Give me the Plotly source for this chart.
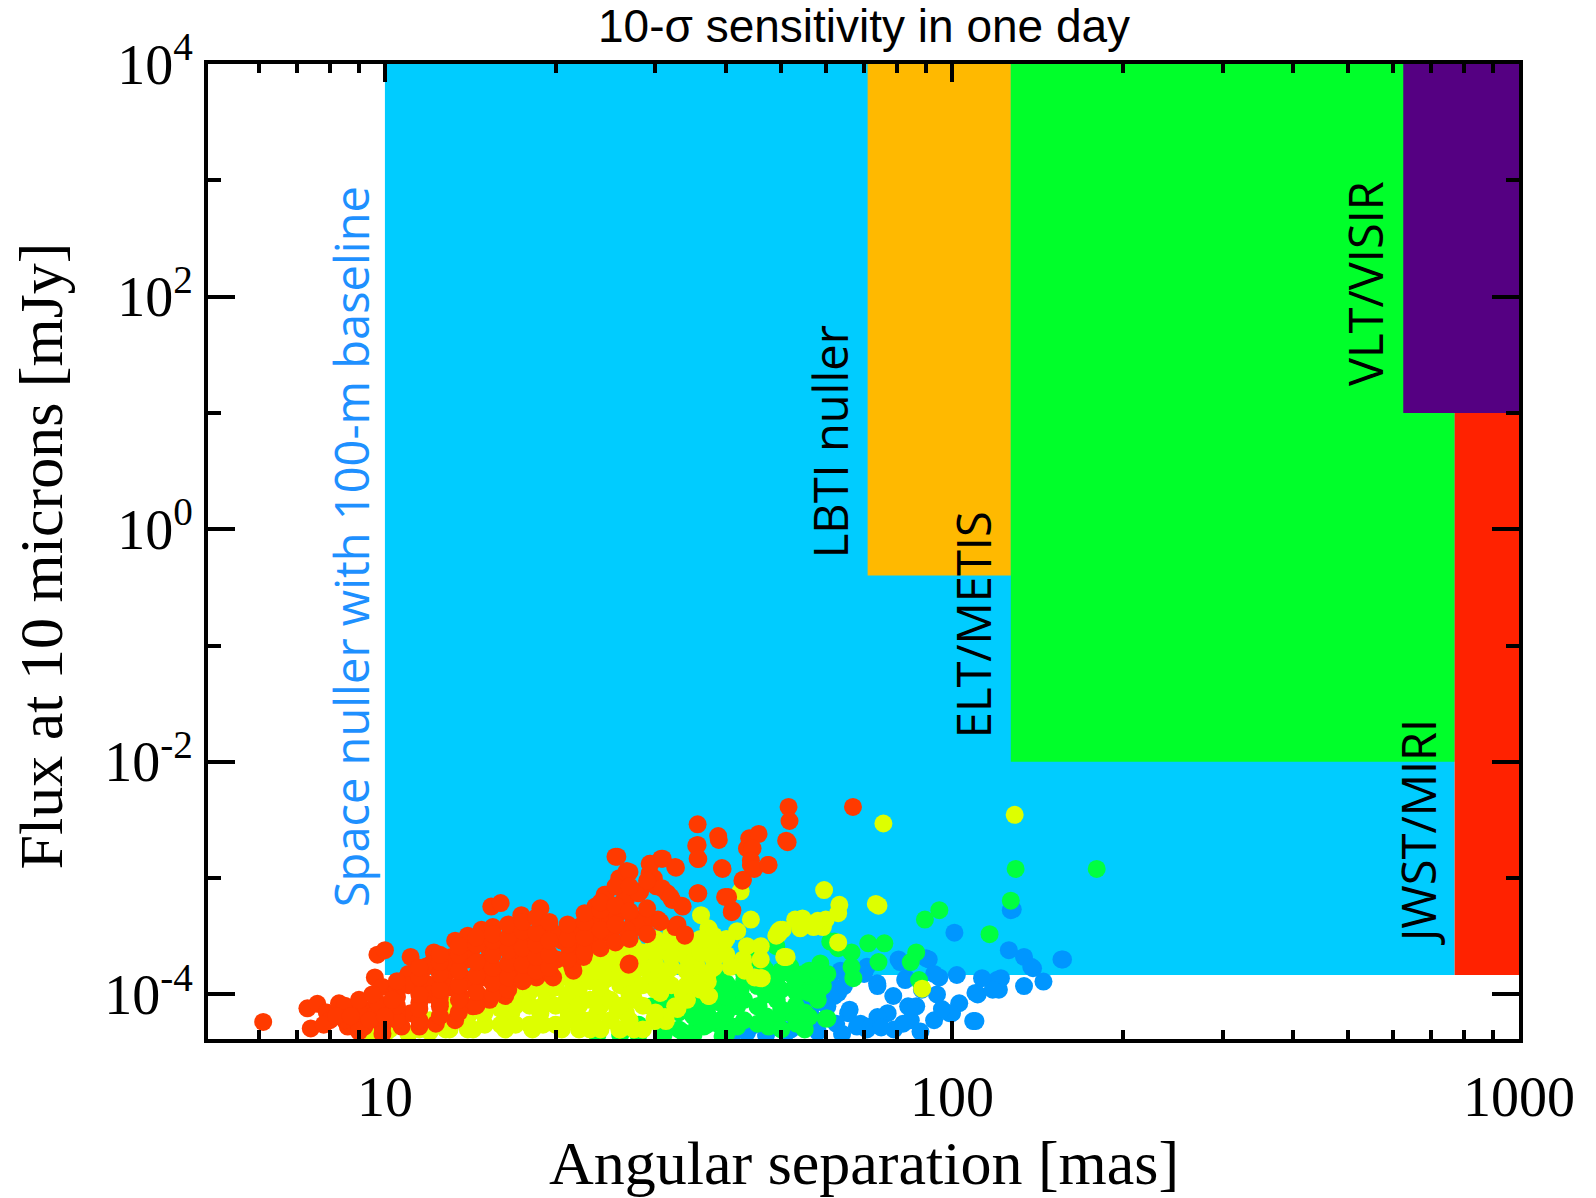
import numpy as np
import plotly.graph_objects as go

# ---------------- sensitivity regions ----------------
region_names = ["Space nuller", "LBTI nuller", "ELT/METIS", "VLT/VISIR", "JWST/MIRI"]
region_x0 = [10, 71, 127, 625, 770]
region_x1 = [770, 127, 770, 1000, 1000]
region_y0 = [1.47e-4, 0.40, 1e-2, 10, 1.47e-4]
region_y1 = [1e4, 1e4, 1e4, 1e4, 10]
region_colors = ["rgb(0,204,255)", "rgb(255,185,0)", "rgb(0,255,42)",
                 "rgb(85,0,130)", "rgb(255,34,0)"]

# ---------------- labels ----------------
label_text = ["Space nuller with 100-m baseline", "LBTI nuller", "ELT/METIS",
              "VLT/VISIR", "JWST/MIRI"]
label_x = [8.7, 60.8, 109, 535, 662]
label_y = [0.71, 5.65, 0.15, 131, 2.5e-3]
label_colors = ["rgb(30,144,255)", "black", "black", "black", "black"]

# ---------------- planets (angular separation [mas], flux [mJy]) ----------------
red_x = [6.1, 7.3, 7.6, 7.4, 7.9, 8.3, 8.8, 9.2, 9.7, 10.0, 9.6, 9.9, 10.5, 10.2,
         11.1, 12.2, 13.1, 11.8, 12.5, 13.7, 14.0, 14.8, 15.5, 15.4, 16.0, 17.4, 18.8, 18.8,
         19.6, 20.5, 21.7, 23.0, 24.0, 24.4, 25.5, 26.0, 26.7, 26.6, 28.2, 29.4, 30.7, 29.3,
         30.1, 31.5, 32.5, 32.1, 33.5, 35.6, 35.6, 38.8, 39.3, 35.6, 39.8, 41.0, 42.8, 43.5,
         44.2, 47.5, 51.0, 32.5, 33.8, 30.3, 28.6, 27.0, 19.3, 21.4, 18.5, 19.6, 17.4, 16.7,
         15.3, 14.2, 13.3, 14.9, 16.0, 15.3, 16.3, 14.3, 13.3, 12.3, 11.5, 10.7, 9.9, 9.2,
         8.6, 11.1, 12.5, 13.6, 11.8, 10.8, 10.4, 11.0,
         51.5, 51.7, 51.3, 66.9, 35.6, 38.7, 35.4, 35.7, 39.4, 43.9, 45.6, 44.5, 44.2, 44.8,
         47.4, 42.7, 35.7, 40.3, 40.9, 25.7, 25.9, 27.0, 29.3, 30.9, 32.6, 29.8, 30.8, 31.9,
         33.4, 32.8, 33.8, 26.9,
         24.5, 26.5, 28.0, 23.5, 22.7, 20.9, 19.8, 24.0, 25.7, 27.4, 28.9, 30.6, 27.8, 26.7,
         25.0, 23.6, 22.4, 21.2, 20.1, 21.5, 19.8, 22.4,
         12.0, 13.0, 14.0, 15.0, 16.0, 17.0, 18.0, 12.0, 11.0, 13.0, 14.0, 15.0, 16.0, 17.0,
         18.0, 19.0, 20.0, 22.0, 9.5, 10.5, 8.0, 11.5, 12.5,
         8.5, 8.5, 9.0, 9.0, 9.0, 10.5, 10.5, 10.5, 10.5, 11.5, 11.5, 11.5, 11.5, 11.5,
         12.5, 12.5, 12.5, 12.5, 12.5, 12.5, 13.5, 13.5, 13.5, 13.5, 13.5, 13.5,
         14.5, 14.5, 14.5, 14.5, 14.5, 14.5, 15.5, 15.5, 15.5, 15.5, 15.5, 15.5,
         16.5, 16.5, 16.5, 16.5, 16.5, 16.5, 17.5, 17.5, 17.5, 17.5, 17.5,
         18.5, 18.5, 18.5, 18.5, 18.5, 19.5, 19.5, 19.5, 19.5, 21.0, 21.0, 21.0, 21.0,
         22.5, 22.5, 22.5, 22.5, 24.0, 24.0, 24.0, 24.0, 25.5, 25.5, 25.5, 25.5,
         27.0, 27.0, 27.0, 29.0, 29.0, 29.0,
         7.8, 8.2, 8.7, 9.0, 9.4, 9.7, 9.5, 10.0, 10.3, 9.9]
red_y = [5.8e-5, 7.6e-5, 8.3e-5, 5.1e-5, 7.0e-5, 8.4e-5, 7.7e-5, 7.4e-5, 2.2e-4, 2.4e-4, 1.4e-4, 1.16e-4, 9.5e-5, 7.8e-5,
         2.1e-4, 2.3e-4, 2.1e-4, 1.73e-4, 1.33e-4, 1.4e-4, 3.2e-4, 3.6e-4, 3.8e-4, 5.7e-4, 6.1e-4, 4.8e-4, 5.5e-4, 4.1e-4,
         3.6e-4, 2.9e-4, 3.4e-4, 3.8e-4, 4.6e-4, 7.2e-4, 1.53e-3, 1.0e-3, 1.15e-3, 6.5e-4, 7.7e-4, 1.33e-3, 1.47e-3, 1.1e-3,
         8.5e-4, 7.4e-4, 1.25e-3, 6.5e-4, 5.7e-4, 1.93e-3, 1.47e-3, 2.13e-3, 1.22e-3, 7.4e-4, 6.9e-4, 5.3e-4, 9.7e-4, 1.8e-3,
         1.3e-3, 1.3e-3, 2.1e-3, 3.8e-4, 3.2e-4, 4.4e-4, 3.8e-4, 1.85e-4, 2.4e-4, 1.73e-4, 1.4e-4, 1.5e-4, 1.6e-4, 2.1e-4,
         2.4e-4, 2.4e-4, 2.9e-4, 1.73e-4, 1.33e-4, 9.0e-5, 9.7e-5, 7.9e-5, 6.0e-5, 5.6e-5, 5.3e-5, 5.3e-5, 5.3e-5, 5.3e-5,
         5.3e-5, 6.9e-5, 7.9e-5, 9.7e-5, 1.25e-4, 1.33e-4, 1.03e-4, 1.5e-4,
         4.1e-3, 3.1e-3, 2.04e-3, 4.1e-3, 2.9e-3, 2.3e-3, 1.9e-3, 1.46e-3, 1.2e-3, 2.2e-3, 2.4e-3, 1.8e-3, 1.42e-3, 1.2e-3,
         1.3e-3, 9.5e-4, 7.4e-4, 6.9e-4, 5.1e-4, 1.53e-3, 1.0e-3, 1.13e-3, 1.33e-3, 1.47e-3, 1.23e-3, 1.0e-3, 8.2e-4, 6.9e-4,
         5.8e-4, 4.0e-4, 3.3e-4, 1.8e-4,
         7.2e-4, 6.9e-4, 7.4e-4, 5.7e-4, 4.6e-4, 3.6e-4, 3.3e-4, 4.6e-4, 4.9e-4, 4.6e-4, 4.4e-4, 4.2e-4, 3.8e-4, 3.6e-4,
         3.3e-4, 2.9e-4, 2.6e-4, 2.3e-4, 2.0e-4, 1.6e-4, 1.4e-4, 2.1e-4,
         1.8e-4, 1.6e-4, 2.0e-4, 1.9e-4, 2.6e-4, 2.9e-4, 3.2e-4, 1.0e-4, 1.2e-4, 1.15e-4, 1.3e-4, 1.4e-4, 1.6e-4, 2.0e-4,
         2.3e-4, 2.8e-4, 3.2e-4, 3.8e-4, 6.5e-5, 7.0e-5, 6.0e-5, 8.5e-5, 9.5e-5,
         6.0e-5, 8.0e-5, 5.5e-5, 7.0e-5, 9.0e-5, 6.0e-5, 8.0e-5, 1.1e-4, 1.3e-4, 6.0e-5, 7.5e-5, 1.0e-4, 1.4e-4, 1.7e-4,
         6.5e-5, 8.5e-5, 1.1e-4, 1.5e-4, 1.9e-4, 2.2e-4, 7.0e-5, 9.0e-5, 1.2e-4, 1.6e-4, 2.2e-4, 2.6e-4,
         8.0e-5, 1.05e-4, 1.45e-4, 1.9e-4, 2.7e-4, 3.1e-4, 1.0e-4, 1.25e-4, 1.7e-4, 2.2e-4, 2.9e-4, 3.3e-4,
         1.1e-4, 1.4e-4, 1.85e-4, 2.4e-4, 3.1e-4, 4.0e-4, 1.3e-4, 1.8e-4, 2.5e-4, 3.5e-4, 4.2e-4,
         1.6e-4, 2.1e-4, 2.7e-4, 3.4e-4, 4.6e-4, 1.7e-4, 2.2e-4, 2.9e-4, 4.2e-4, 2.0e-4, 2.7e-4, 3.0e-4, 4.0e-4,
         2.3e-4, 3.1e-4, 4.2e-4, 5.0e-4, 2.5e-4, 3.6e-4, 5.3e-4, 6.2e-4, 2.8e-4, 4.0e-4, 5.8e-4, 8.5e-4,
         3.0e-4, 5.2e-4, 8.5e-4, 3.3e-4, 5.5e-4, 9.5e-4,
         5.5e-5, 6.5e-5, 6.5e-5, 4.8e-5, 6.0e-5, 8.5e-5, 1.0e-4, 6.5e-5, 9.0e-5, 4.6e-5]

yellow_x = [36.1, 37.2, 42.4, 44.2, 41.8, 39.3, 43.5, 42.8, 44.9, 46.2, 49.0, 50.3, 50.6, 52.9,
            37.2, 33.5, 32.5, 31.2, 29.9, 26.6, 27.8, 30.3, 31.7, 33.5, 35.5, 36.7, 38.3,
            9.1, 10.2, 11.5, 12.8, 14.3, 16.3, 18.2, 20.5, 23.0, 25.9,
            13.3, 14.9, 16.7, 18.8, 21.1, 23.7, 26.6,
            15.3, 17.2, 19.3, 21.7, 24.4, 27.4,
            17.2, 19.3, 21.7, 24.4, 27.4,
            22.4, 25.1, 28.2, 24.4, 27.4, 29.8, 29.9,
            37.3, 39.6, 37.9, 32.8, 30.2, 35.4, 37.1, 42.8, 43.1, 45.9, 37.1, 37.3, 33.6, 32.8,
            31.3, 29.9, 27.5, 34.1, 49.4, 49.8, 51.1, 54.0, 54.5, 59.5, 59.2, 59.9, 63.3, 63.0,
            63.0, 74.2, 75.7, 129, 88.6, 50.7, 22.4, 24.0, 25.7, 27.5, 20.9, 22.4, 29.4, 30.6,
            31.3, 34.6, 40.7, 58.0, 57.0, 49.5, 73.4, 9.5, 11.0,
            10.0, 10.0, 12.0, 12.0, 13.0, 13.0, 13.0, 14.0, 14.0, 14.0, 15.0, 15.0, 15.0,
            16.0, 16.0, 16.0, 16.0, 17.0, 17.0, 17.0, 17.0, 18.0, 18.0, 18.0, 18.0, 18.0,
            19.0, 19.0, 19.0, 19.0, 20.0, 20.0, 20.0, 20.0, 20.0, 21.0, 21.0, 21.0,
            22.0, 22.0, 22.0, 22.0, 22.0, 23.0, 23.0, 23.0, 23.0, 23.0, 24.0, 24.0, 24.0, 24.0, 24.0,
            25.0, 25.0, 25.0, 25.0, 25.0, 26.0, 26.0, 26.0, 26.0, 26.0, 27.0, 27.0, 27.0, 27.0, 27.0,
            28.5, 28.5, 28.5, 28.5, 28.5, 30.0, 30.0, 30.0, 30.0, 30.0, 32.0, 32.0, 32.0, 32.0,
            34.0, 34.0, 34.0, 34.0, 36.0, 36.0, 36.0, 38.0, 38.0, 38.0, 40.0, 40.0, 46.0, 46.0]
yellow_y = [4.8e-4, 3.7e-4, 7.7e-4, 4.4e-4, 3.5e-4, 2.8e-4, 2.6e-4, 2.0e-4, 1.4e-4, 1.38e-4, 3.2e-4, 3.6e-4, 2.1e-4, 4.4e-4,
            9.7e-5, 1.03e-4, 7.9e-5, 6.4e-5, 5.9e-5, 1.73e-4, 1.18e-4, 1.4e-4, 2.6e-4, 2.4e-4, 1.73e-4, 1.33e-4, 2.3e-4,
            5.0e-5, 5.0e-5, 5.0e-5, 5.0e-5, 5.0e-5, 5.0e-5, 5.0e-5, 5.0e-5, 5.0e-5, 5.0e-5,
            6.9e-5, 6.9e-5, 6.9e-5, 6.9e-5, 6.9e-5, 6.9e-5, 6.9e-5,
            9.5e-5, 9.5e-5, 9.5e-5, 9.5e-5, 9.5e-5, 9.5e-5,
            1.33e-4, 1.33e-4, 1.33e-4, 1.33e-4, 1.33e-4,
            1.86e-4, 1.86e-4, 1.86e-4, 2.6e-4, 2.6e-4, 2.6e-4, 2.9e-4,
            3.6e-4, 2.8e-4, 2.6e-4, 2.8e-4, 2.5e-4, 2.0e-4, 1.5e-4, 1.9e-4, 1.6e-4, 1.38e-4, 1.29e-4, 9.7e-5, 1.0e-4, 7.5e-5,
            5.9e-5, 6.2e-5, 5.0e-5, 9.0e-5, 3.3e-4, 3.6e-4, 2.1e-4, 3.7e-4, 4.5e-4, 7.9e-4, 3.8e-4, 4.4e-4, 5.9e-4, 5.0e-4,
            2.8e-4, 5.8e-4, 2.95e-3, 3.5e-3, 1.12e-4, 2.1e-4, 1.4e-4, 1.03e-4, 7.4e-5, 9.0e-5, 9.0e-5, 6.0e-5, 1.33e-4, 1.03e-4,
            1.5e-4, 1.33e-4, 1.73e-4, 4.3e-4, 3.8e-4, 3.5e-4, 6.0e-4, 4.6e-5, 4.6e-5,
            4.6e-5, 5.5e-5, 4.8e-5, 6.0e-5, 5.0e-5, 6.5e-5, 8.0e-5, 5.0e-5, 6.5e-5, 8.5e-5, 5.5e-5, 7.0e-5, 8.5e-5,
            5.5e-5, 7.5e-5, 1.0e-4, 1.15e-4, 5.5e-5, 8.0e-5, 1.1e-4, 1.25e-4, 5.5e-5, 8.0e-5, 1.05e-4, 1.3e-4, 1.5e-4,
            5.5e-5, 8.0e-5, 1.1e-4, 1.5e-4, 5.5e-5, 8.0e-5, 1.15e-4, 1.6e-4, 1.8e-4, 6.0e-5, 1.0e-4, 1.4e-4,
            5.0e-5, 8.0e-5, 1.15e-4, 1.65e-4, 2.0e-4, 6.0e-5, 9.0e-5, 1.3e-4, 1.8e-4, 2.2e-4, 5.0e-5, 8.0e-5, 1.2e-4, 1.6e-4, 2.2e-4,
            6.0e-5, 9.0e-5, 1.4e-4, 2.0e-4, 2.5e-4, 5.0e-5, 8.0e-5, 1.2e-4, 1.6e-4, 2.2e-4, 6.0e-5, 1.0e-4, 1.5e-4, 2.1e-4, 2.7e-4,
            5.0e-5, 8.0e-5, 1.2e-4, 1.7e-4, 2.3e-4, 7.0e-5, 1.1e-4, 1.8e-4, 2.2e-4, 3.0e-4, 1.2e-4, 1.7e-4, 2.1e-4, 3.3e-4,
            1.2e-4, 1.6e-4, 2.1e-4, 2.6e-4, 1.1e-4, 2.3e-4, 3.0e-4, 1.7e-4, 2.0e-4, 3.2e-4, 2.2e-4, 3.0e-4, 2.0e-4, 2.6e-4]

green_x = [129.5, 180, 127, 89.6, 95, 116.5, 61, 71.2, 76, 66.5, 74.2, 58.6, 56, 57.6, 67, 54.1, 58.6,
           86.5, 84.6, 87.5, 54.1, 59.9, 66.5, 62, 63, 60.3, 57.5, 56, 60.3,
           34.6, 38.6, 41.8, 45.4, 49.1, 51.9, 54.7, 57.5, 41.8, 45.4, 49.1, 53.2, 56, 59.2,
           38.6, 41.8, 45.4, 49.1, 53.2, 36.5, 33.6, 39.4, 44.2, 46.5,
           29.5, 31.7, 34.6, 36.7, 39.3, 42.4, 45.6, 49, 51.9, 51.9, 30.7, 35.5, 41, 47.5, 49, 44.9,
           23.7, 26.0,
           28.0, 28.0, 31.0, 31.0, 31.0, 33.0, 33.0, 33.0, 35.0, 35.0, 35.0, 37.0, 37.0, 37.0, 37.0,
           39.0, 39.0, 39.0, 40.0, 40.0, 40.0, 40.0, 43.0, 43.0, 43.0, 43.0, 47.0, 47.0, 47.0, 47.0,
           50.0, 50.0, 50.0, 50.0, 53.0, 53.0, 53.0, 55.0, 55.0, 58.0, 58.0]
green_y = [1.2e-3, 1.2e-3, 6.4e-4, 4.4e-4, 5.3e-4, 3.3e-4, 2.85e-4, 2.75e-4, 2.75e-4, 2.3e-4, 1.9e-4, 1.85e-4, 1.6e-4, 1.4e-4, 1.38e-4, 1.25e-4, 1.25e-4,
           2.3e-4, 1.9e-4, 1.33e-4, 6.4e-5, 6.2e-5, 1.73e-4, 2.85e-4, 2.5e-4, 1.5e-4, 1.33e-4, 6.4e-5, 6.2e-5,
           7.9e-5, 1.03e-4, 1.1e-4, 1.18e-4, 1.4e-4, 1.5e-4, 1.5e-4, 1.6e-4, 7.9e-5, 7.9e-5, 9.0e-5, 1.03e-4, 1.03e-4, 1.18e-4,
           5.6e-5, 5.3e-5, 5.6e-5, 6.0e-5, 5.6e-5, 5.3e-5, 4.7e-5, 4.4e-5, 2.0e-4, 1.73e-4,
           7.9e-5, 9.0e-5, 1.1e-4, 7.9e-5, 1.33e-4, 1.1e-4, 7.9e-5, 1.33e-4, 1.73e-4, 6.9e-5, 5.3e-5, 5.3e-5, 5.3e-5, 5.3e-5, 2.6e-4, 2.1e-4,
           4.5e-5, 4.5e-5,
           4.5e-5, 5.5e-5, 4.5e-5, 6.5e-5, 7.5e-5, 5.0e-5, 7.0e-5, 9.0e-5, 4.5e-5, 6.5e-5, 9.5e-5, 5.5e-5, 7.0e-5, 9.0e-5, 1.15e-4,
           6.0e-5, 8.5e-5, 1.15e-4, 4.6e-5, 7.0e-5, 9.5e-5, 1.25e-4, 6.0e-5, 9.0e-5, 1.3e-4, 1.5e-4, 6.5e-5, 1.0e-4, 1.2e-4, 1.6e-4,
           5.0e-5, 7.5e-5, 1.1e-4, 1.6e-4, 8.0e-5, 1.2e-4, 1.35e-4, 5.0e-5, 7.0e-5, 9.0e-5, 1.05e-4]

blue_x = [70.8, 73.8, 78.8, 83.7, 94.1, 102, 111, 121, 126, 134, 139, 120, 134, 145, 157,
          93, 100, 109, 103, 77, 69, 70.8, 79, 84.6, 56.6, 62, 65.6, 62.5, 61, 82.7, 88.5, 95,
          80.5, 90, 101, 81, 83, 91, 93, 122, 138, 127, 110, 99, 110, 86.5, 73.9, 70.7, 82,
          63, 66, 64.5, 60.3, 57.5, 68, 63.6, 70, 73.9, 56, 54, 50.6, 47, 44.2, 40.7, 118, 113,
          128, 156, 51, 43.5, 41,
          47, 52, 55, 58, 64, 75, 88, 96]
blue_y = [1.73e-4, 1.25e-4, 9.7e-5, 7.9e-5, 1.0e-4, 1.47e-4, 1.0e-4, 1.1e-4, 2.4e-4, 2.1e-4, 1.68e-4, 1.33e-4, 1.18e-4, 1.29e-4, 2.0e-4,
          6.0e-5, 6.9e-5, 5.9e-5, 8.4e-5, 6.9e-5, 5.6e-5, 5.0e-5, 5.0e-5, 6.0e-5, 7.9e-5, 9.7e-5, 6.9e-5, 5.6e-5, 1.25e-4, 1.33e-4, 1.1e-4, 1.4e-4,
          2.0e-4, 2.05e-4, 3.4e-4, 1.9e-4, 1.38e-4, 2.0e-4, 1.5e-4, 1.38e-4, 1.73e-4, 5.3e-4, 1.03e-4, 6.9e-5, 5.9e-5, 7.9e-5, 6.4e-5, 5.3e-5, 5.6e-5,
          1.03e-4, 7.4e-5, 1.18e-4, 7.9e-5, 6.0e-5, 5.3e-5, 1.6e-4, 1.5e-4, 1.18e-4, 1.4e-4, 9.0e-5, 6.9e-5, 5.6e-5, 5.3e-5, 5.0e-5, 1.1e-4, 1.38e-4,
          5.4e-4, 2.0e-4, 4.7e-5, 4.7e-5, 4.5e-5,
          4.5e-5, 5.0e-5, 5.5e-5, 4.8e-5, 4.6e-5, 5.2e-5, 4.8e-5, 7.5e-5]

point_sets = [("blue", blue_x, blue_y, "rgb(0,150,255)"),
              ("green", green_x, green_y, "rgb(0,255,64)"),
              ("yellow", yellow_x, yellow_y, "rgb(221,255,0)"),
              ("red", red_x, red_y, "rgb(255,58,0)")]

# ---------------- axis ticks ----------------
x_tickvals = [10, 100, 1000]
x_ticktext = ["10", "100", "1000"]
x_minor = [6, 7, 8, 9, 20, 30, 40, 50, 60, 70, 80, 90, 200, 300, 400, 500, 600, 700, 800, 900]
y_tickvals = [1e-4, 1e-2, 1, 1e2, 1e4]
y_ticktext = ["10<sup>-4</sup>", "10<sup>-2</sup>", "10<sup>0</sup>", "10<sup>2</sup>", "10<sup>4</sup>"]
y_minor = [1e-3, 1e-1, 1e1, 1e3]

fig = go.Figure()

for name, x0, x1, y0, y1, col in zip(region_names, region_x0, region_x1, region_y0, region_y1, region_colors):
    fig.add_trace(go.Scatter(x=[x0, x1, x1, x0, x0], y=[y0, y0, y1, y1, y0],
                             mode="lines", fill="toself", fillcolor=col,
                             line=dict(width=0, color=col), hoverinfo="skip",
                             name=name, showlegend=False))

for name, xs, ys, col in point_sets:
    fig.add_trace(go.Scatter(x=xs, y=ys, mode="markers", name=name,
                             marker=dict(size=18, color=col, line=dict(width=0)),
                             showlegend=False, cliponaxis=True))

for t, x, y, c in zip(label_text, label_x, label_y, label_colors):
    fig.add_annotation(x=np.log10(x), y=np.log10(y), xref="x", yref="y", text=t,
                       textangle=-90, showarrow=False, xanchor="center", yanchor="middle",
                       font=dict(family="Open Sans", size=47, color=c))

fig.add_annotation(x=0.5, y=1.0385, xref="paper", yref="paper",
                   text="10-σ sensitivity in one day", showarrow=False,
                   xanchor="center", yanchor="middle",
                   font=dict(family="Liberation Sans", size=46, color="black"))
fig.add_annotation(x=0.5, y=-0.127, xref="paper", yref="paper",
                   text="Angular separation [mas]", showarrow=False,
                   xanchor="center", yanchor="middle",
                   font=dict(family="Liberation Serif", size=62, color="black"))
fig.add_annotation(x=-0.1274, y=0.496, xref="paper", yref="paper",
                   text="Flux at 10 microns [mJy]", showarrow=False, textangle=-90,
                   xanchor="center", yanchor="middle",
                   font=dict(family="Liberation Serif", size=62, color="black"))

axis_common = dict(showline=True, linewidth=4, linecolor="black", mirror="ticks",
                   ticks="inside", tickwidth=4, tickcolor="black", showgrid=False,
                   zeroline=False,
                   tickfont=dict(family="Liberation Serif", size=56, color="black"))

fig.update_xaxes(type="log", range=[0.688, 3.0], tickvals=x_tickvals, ticktext=x_ticktext,
                 ticklen=18, ticklabelstandoff=6,
                 minor=dict(tickvals=x_minor, ticks="inside", ticklen=9, tickwidth=4,
                            tickcolor="black", showgrid=False),
                 **axis_common)
fig.update_yaxes(type="log", range=[-4.383, 4.0], tickvals=y_tickvals, ticktext=y_ticktext,
                 ticklen=27, ticklabelstandoff=0,
                 minor=dict(tickvals=y_minor, ticks="inside", ticklen=13, tickwidth=4,
                            tickcolor="black", showgrid=False),
                 **axis_common)

fig.update_layout(width=1596, height=1198,
                  margin=dict(l=208, r=77, t=64, b=159, pad=0),
                  plot_bgcolor="white", paper_bgcolor="white",
                  showlegend=False)

fig.write_html("out.html")
